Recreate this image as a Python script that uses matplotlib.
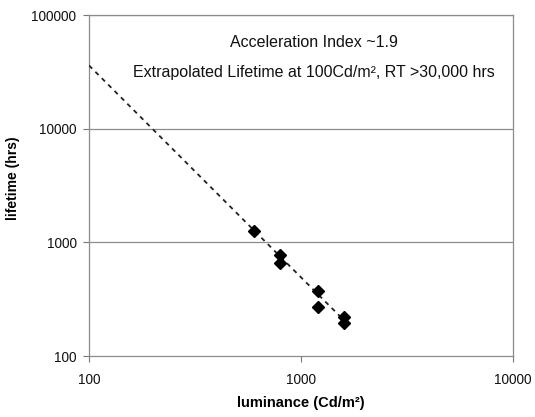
import matplotlib; matplotlib.use('Agg')
import matplotlib.pyplot as plt, numpy as np

plt.rcParams.update({'font.family': ['Liberation Sans', 'DejaVu Sans'], 'font.size': 9.5})

# measured points: luminance (Cd/m2) vs lifetime (hrs)
luminance = [600, 800, 800, 1200, 1200, 1600, 1600]
lifetime = [1250, 770, 660, 370, 270, 220, 195]

# trend line endpoints (extrapolated back to 100 Cd/m2)
trend_lum = [100, 1600]
trend_life = [36000, 205]

y_ticks = [100, 1000, 10000, 100000]
x_ticks = [100, 1000, 10000]

fig = plt.figure(figsize=(5.35, 4.17), dpi=100)
ax = fig.add_axes([89/535, 1 - 356/417, (513 - 89)/535, (356 - 15)/417])

ax.plot(trend_lum, trend_life, color='#222222', lw=1.3, ls=(0, (2.5, 2.5)), zorder=3)
ax.plot(luminance, lifetime, ls='none', marker='D', ms=6, color='black', zorder=4)

ax.set_xscale('log')
ax.set_yscale('log')
ax.set_xlim(100, 10000)
ax.set_ylim(100, 100000)
ax.set_xticks(x_ticks)
ax.set_xticklabels([str(v) for v in x_ticks])
ax.set_yticks(y_ticks)
ax.set_yticklabels([str(v) for v in y_ticks])
ax.minorticks_off()
ax.tick_params(direction='out', length=4, width=0.8, color='#777777',
               labelsize=9.8, labelcolor='#111111', pad=5)
ax.tick_params(axis='x', pad=8)

for y in [1000, 10000, 100000]:
    ax.axhline(y, color='#8c8c8c', lw=0.9, zorder=1)
for s in ax.spines.values():
    s.set_color('#8c8c8c')
    s.set_linewidth(0.9)

ax.set_xlabel('luminance (Cd/m²)', fontweight='bold', fontsize=10.5)
ax.xaxis.set_label_coords(0.5, -0.118)
ax.set_ylabel('lifetime (hrs)', fontweight='bold', fontsize=10)
ax.yaxis.set_label_coords(-0.162, 0.52)

ax.text(0.53, 0.92, 'Acceleration Index ~1.9', transform=ax.transAxes,
        ha='center', va='center', fontsize=11.5, color='#111111')
ax.text(0.53, 0.83, 'Extrapolated Lifetime at 100Cd/m², RT >30,000 hrs',
        transform=ax.transAxes, ha='center', va='center', fontsize=11.5, color='#111111')

fig.savefig('out.png', dpi=100)
plt.close(fig)
